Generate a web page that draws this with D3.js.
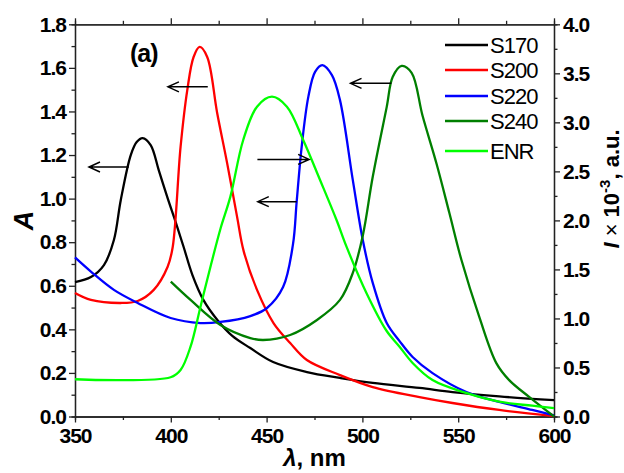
<!DOCTYPE html>
<html>
<head>
<meta charset="utf-8">
<script src="https://cdn.jsdelivr.net/npm/d3@7"></script>
<style>
  body { margin: 0; background: #fff; }
  svg { display: block; font-family: "Liberation Sans", Arial, sans-serif; }
  .tick text { font-size: 21px; font-weight: bold; letter-spacing: -1px; fill: #000; }
  .domain, .tick line { stroke: #222; stroke-width: 1.3; }
</style>
</head>
<body>
<svg width="624" height="473"></svg>
<script>
// S170 (absorbance, left axis)
const s170Lambda = [350, 358.3, 365.1, 370.3, 373.9, 379.1, 382.2, 385.3, 389.5, 393.7, 398.3, 402.5, 406.7, 411.3, 417, 424.3, 432.1, 441.5, 453.4, 471.1, 488.3, 505.4, 529.8, 547, 571.4, 600];
const s170A = [0.617, 0.640, 0.695, 0.810, 0.994, 1.200, 1.260, 1.278, 1.246, 1.131, 1.003, 0.893, 0.778, 0.649, 0.535, 0.443, 0.370, 0.314, 0.250, 0.204, 0.177, 0.154, 0.131, 0.112, 0.092, 0.075];

// S200
const s200Lambda = [350, 358.3, 373.9, 382.7, 391.1, 398.3, 401, 405.1, 408.6, 411.9, 415.1, 419, 424.2, 429.4, 434.6, 438, 445, 453.6, 462.3, 471, 488.3, 505.4, 529.8, 547, 571.4, 600];
const s200A = [0.567, 0.535, 0.521, 0.530, 0.581, 0.686, 0.778, 1.237, 1.498, 1.650, 1.696, 1.650, 1.393, 1.163, 0.916, 0.760, 0.581, 0.429, 0.337, 0.259, 0.190, 0.135, 0.089, 0.062, 0.030, 0.002];

// S220
const s220Lambda = [350, 358.3, 370.3, 382.7, 399.9, 415.5, 425.9, 441.5, 450.2, 458.6, 463.8, 465.7, 468.3, 471.8, 475.3, 479.1, 484.1, 488.3, 495, 500.2, 505.4, 512.7, 519.4, 526.2, 536.6, 554.3, 571.4, 588.6, 600];
const s220A = [0.730, 0.665, 0.581, 0.521, 0.452, 0.429, 0.434, 0.461, 0.498, 0.594, 0.792, 0.986, 1.238, 1.468, 1.582, 1.613, 1.567, 1.452, 1.085, 0.810, 0.613, 0.429, 0.346, 0.273, 0.199, 0.112, 0.067, 0.030, 0.005];

// S240
const s240Lambda = [400, 410.3, 425.9, 441.5, 448.2, 462.3, 476.3, 488.3, 495, 500.2, 505.4, 512.7, 515.8, 520.5, 525.7, 531.4, 538.7, 545.4, 551.7, 561, 569.9, 576.6, 587, 600];
const s240A = [0.619, 0.535, 0.420, 0.360, 0.351, 0.374, 0.443, 0.535, 0.659, 0.830, 1.100, 1.421, 1.558, 1.609, 1.577, 1.380, 1.160, 0.934, 0.718, 0.457, 0.245, 0.167, 0.090, 0.0];

// ENR (intensity, right axis, x10^-3 a.u.)
const enrLambda = [350, 399.9, 405.1, 410.3, 415.5, 421, 426, 431.1, 437.8, 445, 452.8, 460.6, 469.1, 477.9, 486.5, 491.7, 502.1, 512.5, 519.4, 526.2, 536.6, 554.1, 571.4, 588.6, 600];
const enrI = [0.380, 0.400, 0.474, 0.712, 1.120, 1.550, 1.920, 2.242, 2.820, 3.160, 3.262, 3.160, 2.820, 2.412, 2.004, 1.732, 1.260, 0.877, 0.712, 0.546, 0.372, 0.240, 0.151, 0.110, 0.085];

const seriesNames = ['S170', 'S200', 'S220', 'S240', 'ENR'];
const seriesColors = ['#000000', '#ff0000', '#0000ff', '#007f00', '#00ff00'];

// arrows: [from lambda, to lambda, level on A axis]
const arrowFrom = [378.1, 419.3, 445.2, 465.7, 515.1];
const arrowTo = [357.3, 398.5, 472.2, 445.4, 493.8];
const arrowLevel = [1.145, 1.513, 1.180, 0.986, 1.529];

const xTicks = [350, 400, 450, 500, 550, 600];
const aTicks = [0, 0.2, 0.4, 0.6, 0.8, 1.0, 1.2, 1.4, 1.6, 1.8];
const iTicks = [0, 0.5, 1.0, 1.5, 2.0, 2.5, 3.0, 3.5, 4.0];

const svg = d3.select('svg');
const m = { left: 75, right: 554, top: 24.3, bottom: 416.5 };

const x = d3.scaleLinear().domain([350, 600]).range([m.left, m.right]);
const yA = d3.scaleLinear().domain([0, 1.8]).range([m.bottom, m.top]);
const yI = d3.scaleLinear().domain([0, 4]).range([m.bottom, m.top]);

// minor ticks first
const xMinor = d3.range(375, 600, 50);
const aMinor = d3.range(0.1, 1.8, 0.2);
const iMinor = d3.range(0.25, 4, 0.5);

svg.append('g').attr('transform', `translate(0,${m.bottom})`)
  .call(d3.axisBottom(x).tickValues(xMinor).tickSize(3.5).tickFormat(''))
svg.append('g').attr('transform', `translate(0,${m.top})`)
  .call(d3.axisTop(x).tickValues(xMinor).tickSize(3.5).tickFormat(''))
svg.append('g').attr('transform', `translate(${m.left},0)`)
  .call(d3.axisLeft(yA).tickValues(aMinor).tickSize(3.5).tickFormat(''))
svg.append('g').attr('transform', `translate(${m.right},0)`)
  .call(d3.axisRight(yI).tickValues(iMinor).tickSize(3.5).tickFormat(''))

svg.append('g').attr('transform', `translate(0,${m.bottom})`)
  .call(d3.axisBottom(x).tickValues(xTicks).tickSize(6).tickSizeOuter(0).tickPadding(6).tickFormat(d3.format('d')))
svg.append('g').attr('transform', `translate(0,${m.top})`)
  .call(d3.axisTop(x).tickValues(xTicks).tickSize(6).tickSizeOuter(0).tickFormat(''))
svg.append('g').attr('transform', `translate(${m.left},0)`)
  .call(d3.axisLeft(yA).tickValues(aTicks).tickSize(6).tickSizeOuter(0).tickPadding(3).tickFormat(d3.format('.1f')))
svg.append('g').attr('transform', `translate(${m.right},0)`)
  .call(d3.axisRight(yI).tickValues(iTicks).tickSize(6).tickSizeOuter(0).tickPadding(3).tickFormat(d3.format('.1f')))

// curves
const curve = d3.curveCatmullRom.alpha(0.5);
const lineA = d3.line().x(d => x(d[0])).y(d => yA(d[1])).curve(curve);
const lineI = d3.line().x(d => x(d[0])).y(d => yI(d[1])).curve(curve);

const curves = [
  { pts: d3.zip(s170Lambda, s170A), line: lineA },
  { pts: d3.zip(s200Lambda, s200A), line: lineA },
  { pts: d3.zip(s220Lambda, s220A), line: lineA },
  { pts: d3.zip(s240Lambda, s240A), line: lineA },
  { pts: d3.zip(enrLambda, enrI), line: lineI }
];

const plot = svg.append('g');
curves.forEach((c, i) => {
  plot.append('path')
    .attr('d', c.line(c.pts))
    .attr('fill', 'none')
    .attr('stroke', seriesColors[i])
    .attr('stroke-width', 2.3)
    .attr('stroke-linejoin', 'round')
})

// arrows
arrowFrom.forEach((f, i) => {
  const x0 = x(f), x1 = x(arrowTo[i]), yy = yA(arrowLevel[i]);
  const dir = x1 < x0 ? 1 : -1;
  svg.append('path')
    .attr('d', `M${x0},${yy}H${x1}M${x1 + dir * 11},${yy - 5}L${x1},${yy}L${x1 + dir * 11},${yy + 5}`)
    .attr('fill', 'none')
    .attr('stroke', '#000')
    .attr('stroke-width', 1.5)
})

// legend
const legendRows = [45, 70, 96, 121, 151];
const legend = svg.append('g');
seriesNames.forEach((name, i) => {
  legend.append('line')
    .attr('x1', 445).attr('x2', 488)
    .attr('y1', legendRows[i]).attr('y2', legendRows[i])
    .attr('stroke', seriesColors[i])
    .attr('stroke-width', 2.3)
  legend.append('text')
    .attr('x', 490).attr('y', legendRows[i] + 8)
    .attr('font-size', 22)
    .attr('letter-spacing', -1)
    .text(name)
})

// panel label
svg.append('text')
  .attr('x', 130).attr('y', 62)
  .attr('font-size', 25).attr('font-weight', 'bold')
  .attr('letter-spacing', -1)
  .text('(a)')

// axis titles
svg.append('text')
  .attr('transform', `translate(33,${(m.top + m.bottom) / 2}) rotate(-90)`)
  .attr('text-anchor', 'middle')
  .attr('font-size', 27).attr('font-weight', 'bold').attr('font-style', 'italic')
  .text('A')

const xt = svg.append('text')
  .attr('x', (m.left + m.right) / 2).attr('y', 466)
  .attr('text-anchor', 'middle')
  .attr('font-size', 24).attr('font-weight', 'bold')
xt.append('tspan').attr('font-style', 'italic').text('λ')
xt.append('tspan').text(', nm')

const yt = svg.append('text')
  .attr('transform', 'translate(619,189) rotate(-90)')
  .attr('text-anchor', 'middle')
  .attr('font-size', 22).attr('font-weight', 'bold')
yt.append('tspan').attr('font-style', 'italic').text('I')
yt.append('tspan').attr('font-weight', 'normal').text(' × ')
yt.append('tspan').text('10')
yt.append('tspan').attr('font-size', 15).attr('dy', -9).text('-3')
yt.append('tspan').attr('dy', 9).text(', a.u.')
</script>
</body>
</html>
